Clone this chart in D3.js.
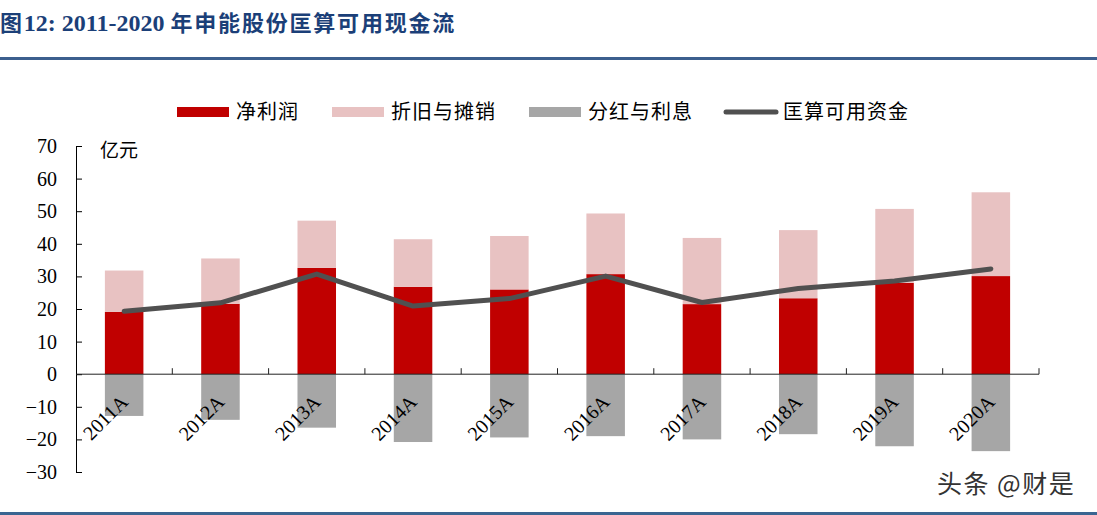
<!DOCTYPE html>
<html>
<head>
<meta charset="utf-8">
<script src="https://cdn.jsdelivr.net/npm/d3@7"></script>
<style>
  html, body { margin: 0; padding: 0; background: #ffffff; }
  svg { display: block; }
</style>
</head>
<body>
<svg id="chart" width="1097" height="515"></svg>
<script>
// ---- data ----
const years = ["2011A","2012A","2013A","2014A","2015A","2016A","2017A","2018A","2019A","2020A"];
const netProfit    = [19.1, 21.6, 32.6, 26.8, 26.0, 30.7, 21.5, 23.3, 28.0, 30.1];
const depreciation = [12.7, 13.9, 14.5, 14.6, 16.4, 18.6, 20.3, 20.9, 22.7, 25.7];
const dividends    = [-12.8, -14.0, -16.4, -20.8, -19.4, -19.0, -20.0, -18.4, -22.1, -23.6];
const available    = [19.3, 21.9, 30.7, 20.9, 23.2, 30.1, 22.0, 26.3, 28.6, 32.3];
const yTicks = [-30, -20, -10, 0, 10, 20, 30, 40, 50, 60, 70];
const seriesNames = ["净利润", "折旧与摊销", "分红与利息", "匡算可用资金"];
const titleParts = [["图", "cjk"], ["12: ", "lat"], ["2011-2020 ", "lat"], ["年申能股份匡算可用现金流", "cjk"]];
const unitLabel = "亿元";
const watermark = "头条 @财是";

// ---- styles ----
const C_NP = "#C00000", C_DEP = "#E8C2C2", C_DIV = "#A6A6A6", C_LINE = "#505050";
const SERIF = "'Liberation Serif','Times New Roman',serif";
const CJK = "'Noto Sans CJK SC','Noto Sans',sans-serif";

const svg = d3.select("#chart");

// title
const title = svg.append("text").attr("x", 0).attr("y", 31)
  .attr("fill", "#1B3F78").attr("font-weight", "bold");
titleParts.forEach(([t, k]) => {
  title.append("tspan").text(t)
    .attr("font-family", k === "cjk" ? CJK : SERIF)
    .attr("font-size", k === "cjk" ? 22 : 24)
    .attr("letter-spacing", k === "cjk" ? 1.8 : 0);
});
svg.append("rect").attr("x", 0).attr("y", 57).attr("width", 1097).attr("height", 3).attr("fill", "#3C5F8E");
svg.append("rect").attr("x", 0).attr("y", 512).attr("width", 1097).attr("height", 3).attr("fill", "#3A6591");

// scales
const x = d3.scaleBand().domain(years).range([76, 1039]).paddingInner(0.6).paddingOuter(0.3);
const y = d3.scaleLinear().domain([-30, 70]).range([472, 146]);
const step = x.step();

// bars
const g = svg.append("g");
g.selectAll(".np").data(years).join("rect")
  .attr("x", d => x(d)).attr("width", x.bandwidth())
  .attr("y", (d, i) => y(netProfit[i])).attr("height", (d, i) => y(0) - y(netProfit[i]))
  .attr("fill", C_NP);
g.selectAll(".dep").data(years).join("rect")
  .attr("x", d => x(d)).attr("width", x.bandwidth())
  .attr("y", (d, i) => y(netProfit[i] + depreciation[i]))
  .attr("height", (d, i) => y(netProfit[i]) - y(netProfit[i] + depreciation[i]))
  .attr("fill", C_DEP);
g.selectAll(".div").data(years).join("rect")
  .attr("x", d => x(d)).attr("width", x.bandwidth())
  .attr("y", y(0)).attr("height", (d, i) => y(dividends[i]) - y(0))
  .attr("fill", C_DIV);

// y axis
const yAxis = d3.axisLeft(y).tickValues(yTicks).tickSize(-6).tickPadding(18).tickSizeOuter(0);
const ya = svg.append("g").attr("transform", "translate(76,0)").call(yAxis);
ya.select(".domain").attr("stroke", "#000");
ya.selectAll(".tick line").attr("stroke", "#000");
ya.selectAll(".tick text").attr("font-family", SERIF).attr("font-size", 20).attr("fill", "#000").attr("x", -19);

// x axis (at zero)
const xa = svg.append("g").attr("transform", `translate(0,${y(0)})`);
xa.append("line").attr("x1", 76).attr("x2", 1039).attr("y1", 0).attr("y2", 0).attr("stroke", "#222").attr("stroke-width", 1);
xa.selectAll(".xt").data(years).join("line")
  .attr("x1", d => x(d) - step * 0.3 + step).attr("x2", d => x(d) - step * 0.3 + step)
  .attr("y1", 0).attr("y2", -6).attr("stroke", "#222");
xa.selectAll(".xl").data(years).join("text")
  .attr("transform", d => `translate(${x(d) + x.bandwidth() / 2 + 5},${29}) rotate(-45)`)
  .attr("text-anchor", "end")
  .attr("font-family", SERIF).attr("font-size", 20).attr("fill", "#000")
  .text(d => d);

// line
const line = d3.line().x((d, i) => x(years[i]) + x.bandwidth() / 2).y(d => y(d));
svg.append("path").datum(available).attr("d", line)
  .attr("fill", "none").attr("stroke", C_LINE).attr("stroke-width", 5)
  .attr("stroke-linejoin", "round").attr("stroke-linecap", "round");

// unit label
svg.append("text").attr("x", 100).attr("y", 157).attr("font-family", CJK).attr("font-size", 19)
  .attr("fill", "#000").text(unitLabel);

// legend
const legX = [177, 332, 529, 724];
const legend = svg.append("g");
seriesNames.forEach((name, i) => {
  if (i < 3) {
    legend.append("rect").attr("x", legX[i]).attr("y", 107).attr("width", 52).attr("height", 10)
      .attr("fill", [C_NP, C_DEP, C_DIV][i]);
  } else {
    legend.append("line").attr("x1", legX[i] + 2).attr("x2", legX[i] + 52).attr("y1", 112).attr("y2", 112)
      .attr("stroke", C_LINE).attr("stroke-width", 5).attr("stroke-linecap", "round");
  }
  legend.append("text").attr("x", legX[i] + 59).attr("y", 119)
    .attr("font-family", CJK).attr("font-size", 20).attr("letter-spacing", 1).attr("fill", "#000").text(name);
});

// watermark
svg.append("text").attr("x", 937).attr("y", 493).attr("font-family", CJK).attr("font-size", 25)
  .attr("letter-spacing", 1.5)
  .attr("fill", "#333").attr("stroke", "#fff").attr("stroke-width", 3).attr("paint-order", "stroke")
  .text(watermark);
</script>
</body>
</html>
